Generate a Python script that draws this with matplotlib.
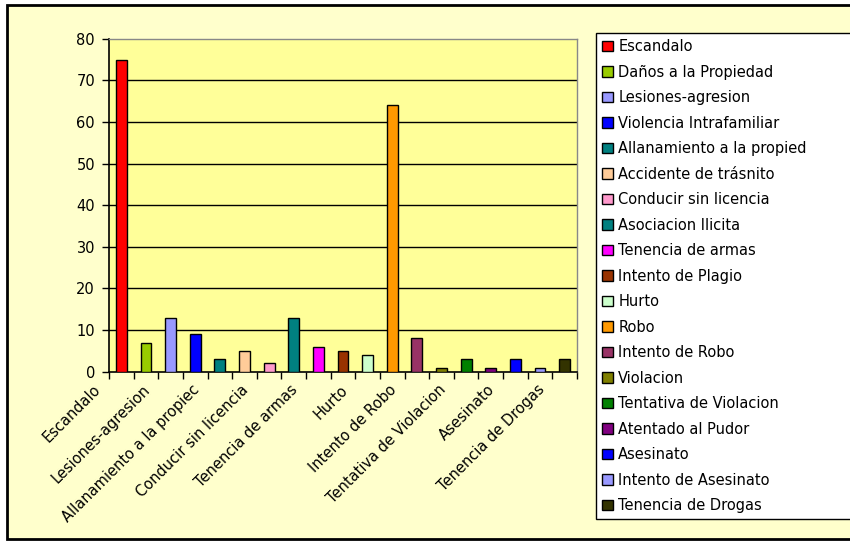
import matplotlib.pyplot as plt
import matplotlib.patches as mpatches
import matplotlib.transforms as mtransforms
import numpy as np

categorias = ['Escandalo', 'Daños a la Propiedad', 'Lesiones-agresion', 'Violencia Intrafamiliar',
              'Allanamiento a la propied', 'Accidente de trásnito', 'Conducir sin licencia',
              'Asociacion Ilicita', 'Tenencia de armas', 'Intento de Plagio', 'Hurto', 'Robo',
              'Intento de Robo', 'Violacion', 'Tentativa de Violacion', 'Atentado al Pudor',
              'Asesinato', 'Intento de Asesinato', 'Tenencia de Drogas']
valores = [75, 7, 13, 9, 3, 5, 2, 13, 6, 5, 4, 64, 8, 1, 3, 1, 3, 1, 3]
colores = ['#FF0000', '#99CC00', '#9999FF', '#0000FF', '#008080', '#FFCC99', '#FF99CC',
           '#008080', '#FF00FF', '#993300', '#CCFFCC', '#FF9900', '#993366', '#808000',
           '#008000', '#800080', '#0000FF', '#9999FF', '#333300']
etiquetas_x = ['Escandalo', '', 'Lesiones-agresion', '', 'Allanamiento a la propiec', '',
               'Conducir sin licencia', '', 'Tenencia de armas', '', 'Hurto', '',
               'Intento de Robo', '', 'Tentativa de Violacion', '', 'Asesinato', '',
               'Tenencia de Drogas']

plt.rcParams['font.family'] = 'DejaVu Sans'
W, H = 850, 541
fig = plt.figure(figsize=(W / 100, H / 100), dpi=100)
fig.patch.set_facecolor('white')

# fondo crema con borde
fig.patches.append(mpatches.Rectangle((7 / W, 2 / H), 1.0, 534 / H, transform=fig.transFigure,
                                      facecolor='#FFFFCC', edgecolor='black', linewidth=2, zorder=-5))

ax = fig.add_axes([109 / W, 169.3 / H, 468 / W, 333 / H])
ax.set_zorder(2)
ax.set_facecolor('#FFFF99')
x = np.arange(len(categorias))
bars = ax.bar(x, valores, width=0.44, color=colores, edgecolor='black', linewidth=1, zorder=3)

ax.set_xlim(-0.5, len(categorias) - 0.5)
ax.set_ylim(0, 80)
ax.set_yticks(range(0, 81, 10))
ax.tick_params(axis='y', direction='out', length=5, width=1, labelsize=10.5, pad=5)
for yv in range(10, 80, 10):
    ax.axhline(yv, color='black', linewidth=1, zorder=1)

ax.set_xticks(x)
ax.set_xticklabels(etiquetas_x, rotation=45, ha='right', va='top', rotation_mode='anchor', fontsize=10.5)
ax.tick_params(axis='x', which='major', length=0, pad=6)
ax.set_xticks(np.arange(-0.5, len(categorias), 1), minor=True)
ax.tick_params(axis='x', which='minor', direction='out', length=5, width=1)
desplazar = mtransforms.ScaledTranslation(-28 / 100, -2 / 100, fig.dpi_scale_trans)
for lbl in ax.get_xticklabels():
    lbl.set_transform(lbl.get_transform() + desplazar)

for s in ['left', 'bottom']:
    ax.spines[s].set_color('black')
    ax.spines[s].set_linewidth(1.2)
for s in ['top', 'right']:
    ax.spines[s].set_color('#888888')
    ax.spines[s].set_linewidth(1)

handles = [mpatches.Patch(facecolor=c, edgecolor='black', linewidth=1) for c in colores]
leg = fig.legend(handles, categorias, loc='upper left',
                 bbox_to_anchor=(596 / W, 26 / H, 260 / W, 482 / H), mode='expand',
                 fontsize=10.5, frameon=True, fancybox=False, shadow=False, borderpad=0.42,
                 labelspacing=0.72, handlelength=0.75, handleheight=0.75, handletextpad=0.35,
                 borderaxespad=0, framealpha=1)
leg.get_frame().set_edgecolor('black')
leg.get_frame().set_linewidth(1)
leg.get_frame().set_facecolor('white')

fig.savefig('out.png', dpi=100, facecolor=fig.get_facecolor())
